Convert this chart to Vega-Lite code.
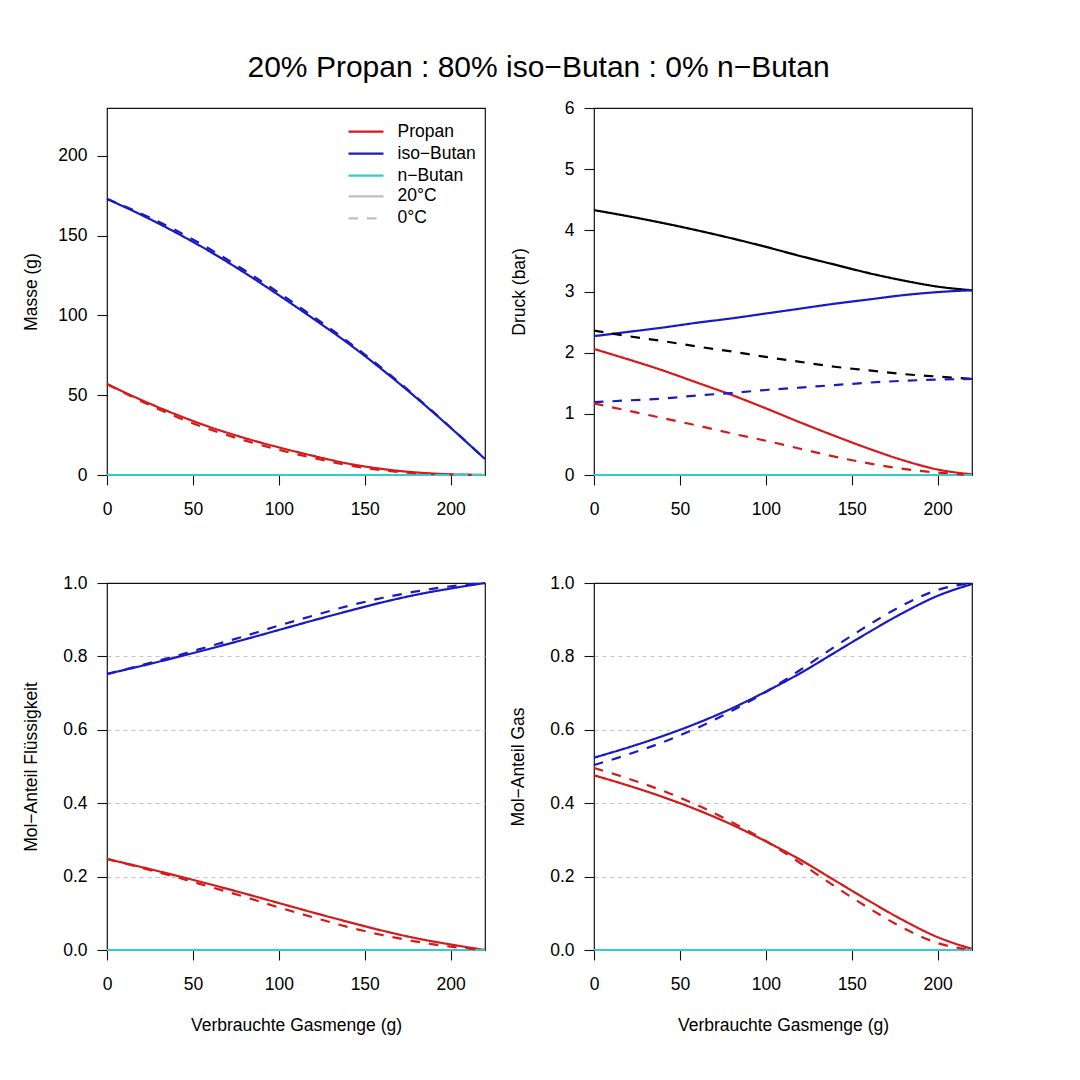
{
  "$schema": "https://vega.github.io/schema/vega-lite/v6.json",
  "title": {"text": "20% Propan : 80% iso−Butan : 0% n−Butan", "fontSize": 30, "fontWeight": "normal", "font": "Liberation Sans", "color": "black", "anchor": "middle", "offset": 15, "dx": 39},
  "padding": {"left": 22, "top": 53, "right": 10, "bottom": 10},
  "columns": 2,
  "spacing": {"row": 108, "column": 109},
  "bounds": "flush",
  "datasets": {
    "masse": [
      {"x": 0, "comp": "Propan", "temp": "20°C", "v": 57},
      {"x": 20, "comp": "Propan", "temp": "20°C", "v": 47},
      {"x": 40, "comp": "Propan", "temp": "20°C", "v": 38},
      {"x": 60, "comp": "Propan", "temp": "20°C", "v": 30},
      {"x": 80, "comp": "Propan", "temp": "20°C", "v": 23.2},
      {"x": 100, "comp": "Propan", "temp": "20°C", "v": 17.3},
      {"x": 120, "comp": "Propan", "temp": "20°C", "v": 12},
      {"x": 140, "comp": "Propan", "temp": "20°C", "v": 7.2},
      {"x": 160, "comp": "Propan", "temp": "20°C", "v": 3.8},
      {"x": 180, "comp": "Propan", "temp": "20°C", "v": 1.6},
      {"x": 200, "comp": "Propan", "temp": "20°C", "v": 0.4},
      {"x": 220, "comp": "Propan", "temp": "20°C", "v": 0},
      {"x": 0, "comp": "iso−Butan", "temp": "20°C", "v": 173},
      {"x": 20, "comp": "iso−Butan", "temp": "20°C", "v": 163},
      {"x": 40, "comp": "iso−Butan", "temp": "20°C", "v": 152},
      {"x": 60, "comp": "iso−Butan", "temp": "20°C", "v": 140},
      {"x": 80, "comp": "iso−Butan", "temp": "20°C", "v": 126.8},
      {"x": 100, "comp": "iso−Butan", "temp": "20°C", "v": 112.7},
      {"x": 120, "comp": "iso−Butan", "temp": "20°C", "v": 98},
      {"x": 140, "comp": "iso−Butan", "temp": "20°C", "v": 82.8},
      {"x": 160, "comp": "iso−Butan", "temp": "20°C", "v": 66.2},
      {"x": 180, "comp": "iso−Butan", "temp": "20°C", "v": 48.4},
      {"x": 200, "comp": "iso−Butan", "temp": "20°C", "v": 29.6},
      {"x": 220, "comp": "iso−Butan", "temp": "20°C", "v": 10},
      {"x": 0, "comp": "n−Butan", "temp": "20°C", "v": 0},
      {"x": 220, "comp": "n−Butan", "temp": "20°C", "v": 0},
      {"x": 0, "comp": "Propan", "temp": "0°C", "v": 57},
      {"x": 20, "comp": "Propan", "temp": "0°C", "v": 46.2},
      {"x": 40, "comp": "Propan", "temp": "0°C", "v": 36.6},
      {"x": 60, "comp": "Propan", "temp": "0°C", "v": 28.5},
      {"x": 80, "comp": "Propan", "temp": "0°C", "v": 21.7},
      {"x": 100, "comp": "Propan", "temp": "0°C", "v": 15.8},
      {"x": 120, "comp": "Propan", "temp": "0°C", "v": 10.7},
      {"x": 140, "comp": "Propan", "temp": "0°C", "v": 6.2},
      {"x": 160, "comp": "Propan", "temp": "0°C", "v": 3},
      {"x": 180, "comp": "Propan", "temp": "0°C", "v": 1.1},
      {"x": 200, "comp": "Propan", "temp": "0°C", "v": 0.2},
      {"x": 220, "comp": "Propan", "temp": "0°C", "v": 0},
      {"x": 0, "comp": "iso−Butan", "temp": "0°C", "v": 173},
      {"x": 20, "comp": "iso−Butan", "temp": "0°C", "v": 163.8},
      {"x": 40, "comp": "iso−Butan", "temp": "0°C", "v": 153.4},
      {"x": 60, "comp": "iso−Butan", "temp": "0°C", "v": 141.5},
      {"x": 80, "comp": "iso−Butan", "temp": "0°C", "v": 128.3},
      {"x": 100, "comp": "iso−Butan", "temp": "0°C", "v": 114.2},
      {"x": 120, "comp": "iso−Butan", "temp": "0°C", "v": 99.3},
      {"x": 140, "comp": "iso−Butan", "temp": "0°C", "v": 83.8},
      {"x": 160, "comp": "iso−Butan", "temp": "0°C", "v": 67},
      {"x": 180, "comp": "iso−Butan", "temp": "0°C", "v": 48.9},
      {"x": 200, "comp": "iso−Butan", "temp": "0°C", "v": 29.8},
      {"x": 220, "comp": "iso−Butan", "temp": "0°C", "v": 10},
      {"x": 0, "comp": "n−Butan", "temp": "0°C", "v": 0},
      {"x": 220, "comp": "n−Butan", "temp": "0°C", "v": 0}
    ],
    "druck": [
      {"x": 0, "comp": "Gesamt", "temp": "20°C", "v": 4.33},
      {"x": 20, "comp": "Gesamt", "temp": "20°C", "v": 4.23},
      {"x": 40, "comp": "Gesamt", "temp": "20°C", "v": 4.12},
      {"x": 60, "comp": "Gesamt", "temp": "20°C", "v": 4.0},
      {"x": 80, "comp": "Gesamt", "temp": "20°C", "v": 3.87},
      {"x": 100, "comp": "Gesamt", "temp": "20°C", "v": 3.73},
      {"x": 120, "comp": "Gesamt", "temp": "20°C", "v": 3.58},
      {"x": 140, "comp": "Gesamt", "temp": "20°C", "v": 3.44},
      {"x": 160, "comp": "Gesamt", "temp": "20°C", "v": 3.3},
      {"x": 180, "comp": "Gesamt", "temp": "20°C", "v": 3.18},
      {"x": 200, "comp": "Gesamt", "temp": "20°C", "v": 3.08},
      {"x": 220, "comp": "Gesamt", "temp": "20°C", "v": 3.02},
      {"x": 0, "comp": "iso−Butan", "temp": "20°C", "v": 2.27},
      {"x": 20, "comp": "iso−Butan", "temp": "20°C", "v": 2.34},
      {"x": 40, "comp": "iso−Butan", "temp": "20°C", "v": 2.41},
      {"x": 60, "comp": "iso−Butan", "temp": "20°C", "v": 2.49},
      {"x": 80, "comp": "iso−Butan", "temp": "20°C", "v": 2.56},
      {"x": 100, "comp": "iso−Butan", "temp": "20°C", "v": 2.64},
      {"x": 120, "comp": "iso−Butan", "temp": "20°C", "v": 2.72},
      {"x": 140, "comp": "iso−Butan", "temp": "20°C", "v": 2.8},
      {"x": 160, "comp": "iso−Butan", "temp": "20°C", "v": 2.87},
      {"x": 180, "comp": "iso−Butan", "temp": "20°C", "v": 2.94},
      {"x": 200, "comp": "iso−Butan", "temp": "20°C", "v": 2.99},
      {"x": 220, "comp": "iso−Butan", "temp": "20°C", "v": 3.02},
      {"x": 0, "comp": "Propan", "temp": "20°C", "v": 2.06},
      {"x": 20, "comp": "Propan", "temp": "20°C", "v": 1.89},
      {"x": 40, "comp": "Propan", "temp": "20°C", "v": 1.71},
      {"x": 60, "comp": "Propan", "temp": "20°C", "v": 1.51},
      {"x": 80, "comp": "Propan", "temp": "20°C", "v": 1.31},
      {"x": 100, "comp": "Propan", "temp": "20°C", "v": 1.09},
      {"x": 120, "comp": "Propan", "temp": "20°C", "v": 0.86},
      {"x": 140, "comp": "Propan", "temp": "20°C", "v": 0.64},
      {"x": 160, "comp": "Propan", "temp": "20°C", "v": 0.43},
      {"x": 180, "comp": "Propan", "temp": "20°C", "v": 0.24},
      {"x": 200, "comp": "Propan", "temp": "20°C", "v": 0.09},
      {"x": 220, "comp": "Propan", "temp": "20°C", "v": 0.01},
      {"x": 0, "comp": "n−Butan", "temp": "20°C", "v": 0},
      {"x": 220, "comp": "n−Butan", "temp": "20°C", "v": 0},
      {"x": 0, "comp": "Gesamt", "temp": "0°C", "v": 2.36},
      {"x": 20, "comp": "Gesamt", "temp": "0°C", "v": 2.27},
      {"x": 40, "comp": "Gesamt", "temp": "0°C", "v": 2.19},
      {"x": 60, "comp": "Gesamt", "temp": "0°C", "v": 2.1},
      {"x": 80, "comp": "Gesamt", "temp": "0°C", "v": 2.02},
      {"x": 100, "comp": "Gesamt", "temp": "0°C", "v": 1.93},
      {"x": 120, "comp": "Gesamt", "temp": "0°C", "v": 1.85},
      {"x": 140, "comp": "Gesamt", "temp": "0°C", "v": 1.77},
      {"x": 160, "comp": "Gesamt", "temp": "0°C", "v": 1.71},
      {"x": 180, "comp": "Gesamt", "temp": "0°C", "v": 1.65},
      {"x": 200, "comp": "Gesamt", "temp": "0°C", "v": 1.61},
      {"x": 220, "comp": "Gesamt", "temp": "0°C", "v": 1.57},
      {"x": 0, "comp": "iso−Butan", "temp": "0°C", "v": 1.19},
      {"x": 20, "comp": "iso−Butan", "temp": "0°C", "v": 1.22},
      {"x": 40, "comp": "iso−Butan", "temp": "0°C", "v": 1.25},
      {"x": 60, "comp": "iso−Butan", "temp": "0°C", "v": 1.3},
      {"x": 80, "comp": "iso−Butan", "temp": "0°C", "v": 1.34},
      {"x": 100, "comp": "iso−Butan", "temp": "0°C", "v": 1.39},
      {"x": 120, "comp": "iso−Butan", "temp": "0°C", "v": 1.43},
      {"x": 140, "comp": "iso−Butan", "temp": "0°C", "v": 1.47},
      {"x": 160, "comp": "iso−Butan", "temp": "0°C", "v": 1.51},
      {"x": 180, "comp": "iso−Butan", "temp": "0°C", "v": 1.54},
      {"x": 200, "comp": "iso−Butan", "temp": "0°C", "v": 1.56},
      {"x": 220, "comp": "iso−Butan", "temp": "0°C", "v": 1.57},
      {"x": 0, "comp": "Propan", "temp": "0°C", "v": 1.17},
      {"x": 20, "comp": "Propan", "temp": "0°C", "v": 1.05},
      {"x": 40, "comp": "Propan", "temp": "0°C", "v": 0.93},
      {"x": 60, "comp": "Propan", "temp": "0°C", "v": 0.81},
      {"x": 80, "comp": "Propan", "temp": "0°C", "v": 0.68},
      {"x": 100, "comp": "Propan", "temp": "0°C", "v": 0.56},
      {"x": 120, "comp": "Propan", "temp": "0°C", "v": 0.43},
      {"x": 140, "comp": "Propan", "temp": "0°C", "v": 0.3},
      {"x": 160, "comp": "Propan", "temp": "0°C", "v": 0.19},
      {"x": 180, "comp": "Propan", "temp": "0°C", "v": 0.1},
      {"x": 200, "comp": "Propan", "temp": "0°C", "v": 0.04},
      {"x": 220, "comp": "Propan", "temp": "0°C", "v": 0},
      {"x": 0, "comp": "n−Butan", "temp": "0°C", "v": 0},
      {"x": 220, "comp": "n−Butan", "temp": "0°C", "v": 0}
    ],
    "fluessig": [
      {"x": 0, "comp": "Propan", "temp": "20°C", "v": 0.248},
      {"x": 20, "comp": "Propan", "temp": "20°C", "v": 0.226},
      {"x": 40, "comp": "Propan", "temp": "20°C", "v": 0.203},
      {"x": 60, "comp": "Propan", "temp": "20°C", "v": 0.179},
      {"x": 80, "comp": "Propan", "temp": "20°C", "v": 0.154},
      {"x": 100, "comp": "Propan", "temp": "20°C", "v": 0.128},
      {"x": 120, "comp": "Propan", "temp": "20°C", "v": 0.102},
      {"x": 140, "comp": "Propan", "temp": "20°C", "v": 0.077},
      {"x": 160, "comp": "Propan", "temp": "20°C", "v": 0.053},
      {"x": 180, "comp": "Propan", "temp": "20°C", "v": 0.032},
      {"x": 200, "comp": "Propan", "temp": "20°C", "v": 0.015},
      {"x": 220, "comp": "Propan", "temp": "20°C", "v": 0},
      {"x": 0, "comp": "iso−Butan", "temp": "20°C", "v": 0.752},
      {"x": 20, "comp": "iso−Butan", "temp": "20°C", "v": 0.774},
      {"x": 40, "comp": "iso−Butan", "temp": "20°C", "v": 0.797},
      {"x": 60, "comp": "iso−Butan", "temp": "20°C", "v": 0.821},
      {"x": 80, "comp": "iso−Butan", "temp": "20°C", "v": 0.846},
      {"x": 100, "comp": "iso−Butan", "temp": "20°C", "v": 0.872},
      {"x": 120, "comp": "iso−Butan", "temp": "20°C", "v": 0.898},
      {"x": 140, "comp": "iso−Butan", "temp": "20°C", "v": 0.923},
      {"x": 160, "comp": "iso−Butan", "temp": "20°C", "v": 0.947},
      {"x": 180, "comp": "iso−Butan", "temp": "20°C", "v": 0.968},
      {"x": 200, "comp": "iso−Butan", "temp": "20°C", "v": 0.985},
      {"x": 220, "comp": "iso−Butan", "temp": "20°C", "v": 1},
      {"x": 0, "comp": "n−Butan", "temp": "20°C", "v": 0},
      {"x": 220, "comp": "n−Butan", "temp": "20°C", "v": 0},
      {"x": 0, "comp": "Propan", "temp": "0°C", "v": 0.248},
      {"x": 20, "comp": "Propan", "temp": "0°C", "v": 0.224},
      {"x": 40, "comp": "Propan", "temp": "0°C", "v": 0.199},
      {"x": 60, "comp": "Propan", "temp": "0°C", "v": 0.172},
      {"x": 80, "comp": "Propan", "temp": "0°C", "v": 0.145},
      {"x": 100, "comp": "Propan", "temp": "0°C", "v": 0.116},
      {"x": 120, "comp": "Propan", "temp": "0°C", "v": 0.089},
      {"x": 140, "comp": "Propan", "temp": "0°C", "v": 0.063},
      {"x": 160, "comp": "Propan", "temp": "0°C", "v": 0.041},
      {"x": 180, "comp": "Propan", "temp": "0°C", "v": 0.023},
      {"x": 200, "comp": "Propan", "temp": "0°C", "v": 0.009},
      {"x": 220, "comp": "Propan", "temp": "0°C", "v": 0},
      {"x": 0, "comp": "iso−Butan", "temp": "0°C", "v": 0.752},
      {"x": 20, "comp": "iso−Butan", "temp": "0°C", "v": 0.776},
      {"x": 40, "comp": "iso−Butan", "temp": "0°C", "v": 0.801},
      {"x": 60, "comp": "iso−Butan", "temp": "0°C", "v": 0.828},
      {"x": 80, "comp": "iso−Butan", "temp": "0°C", "v": 0.855},
      {"x": 100, "comp": "iso−Butan", "temp": "0°C", "v": 0.884},
      {"x": 120, "comp": "iso−Butan", "temp": "0°C", "v": 0.911},
      {"x": 140, "comp": "iso−Butan", "temp": "0°C", "v": 0.937},
      {"x": 160, "comp": "iso−Butan", "temp": "0°C", "v": 0.959},
      {"x": 180, "comp": "iso−Butan", "temp": "0°C", "v": 0.977},
      {"x": 200, "comp": "iso−Butan", "temp": "0°C", "v": 0.991},
      {"x": 220, "comp": "iso−Butan", "temp": "0°C", "v": 1},
      {"x": 0, "comp": "n−Butan", "temp": "0°C", "v": 0},
      {"x": 220, "comp": "n−Butan", "temp": "0°C", "v": 0}
    ],
    "gas": [
      {"x": 0, "comp": "Propan", "temp": "20°C", "v": 0.476},
      {"x": 20, "comp": "Propan", "temp": "20°C", "v": 0.448},
      {"x": 40, "comp": "Propan", "temp": "20°C", "v": 0.417},
      {"x": 60, "comp": "Propan", "temp": "20°C", "v": 0.382},
      {"x": 80, "comp": "Propan", "temp": "20°C", "v": 0.342},
      {"x": 100, "comp": "Propan", "temp": "20°C", "v": 0.296},
      {"x": 120, "comp": "Propan", "temp": "20°C", "v": 0.246},
      {"x": 140, "comp": "Propan", "temp": "20°C", "v": 0.19},
      {"x": 160, "comp": "Propan", "temp": "20°C", "v": 0.134},
      {"x": 180, "comp": "Propan", "temp": "20°C", "v": 0.081},
      {"x": 200, "comp": "Propan", "temp": "20°C", "v": 0.035},
      {"x": 220, "comp": "Propan", "temp": "20°C", "v": 0.003},
      {"x": 0, "comp": "iso−Butan", "temp": "20°C", "v": 0.524},
      {"x": 20, "comp": "iso−Butan", "temp": "20°C", "v": 0.552},
      {"x": 40, "comp": "iso−Butan", "temp": "20°C", "v": 0.583},
      {"x": 60, "comp": "iso−Butan", "temp": "20°C", "v": 0.618},
      {"x": 80, "comp": "iso−Butan", "temp": "20°C", "v": 0.658},
      {"x": 100, "comp": "iso−Butan", "temp": "20°C", "v": 0.704},
      {"x": 120, "comp": "iso−Butan", "temp": "20°C", "v": 0.754},
      {"x": 140, "comp": "iso−Butan", "temp": "20°C", "v": 0.81},
      {"x": 160, "comp": "iso−Butan", "temp": "20°C", "v": 0.866},
      {"x": 180, "comp": "iso−Butan", "temp": "20°C", "v": 0.919},
      {"x": 200, "comp": "iso−Butan", "temp": "20°C", "v": 0.965},
      {"x": 220, "comp": "iso−Butan", "temp": "20°C", "v": 0.997},
      {"x": 0, "comp": "n−Butan", "temp": "20°C", "v": 0},
      {"x": 220, "comp": "n−Butan", "temp": "20°C", "v": 0},
      {"x": 0, "comp": "Propan", "temp": "0°C", "v": 0.496},
      {"x": 20, "comp": "Propan", "temp": "0°C", "v": 0.467},
      {"x": 40, "comp": "Propan", "temp": "0°C", "v": 0.434},
      {"x": 60, "comp": "Propan", "temp": "0°C", "v": 0.395},
      {"x": 80, "comp": "Propan", "temp": "0°C", "v": 0.349},
      {"x": 100, "comp": "Propan", "temp": "0°C", "v": 0.297},
      {"x": 120, "comp": "Propan", "temp": "0°C", "v": 0.237},
      {"x": 140, "comp": "Propan", "temp": "0°C", "v": 0.174},
      {"x": 160, "comp": "Propan", "temp": "0°C", "v": 0.114},
      {"x": 180, "comp": "Propan", "temp": "0°C", "v": 0.06},
      {"x": 200, "comp": "Propan", "temp": "0°C", "v": 0.019},
      {"x": 220, "comp": "Propan", "temp": "0°C", "v": 0},
      {"x": 0, "comp": "iso−Butan", "temp": "0°C", "v": 0.504},
      {"x": 20, "comp": "iso−Butan", "temp": "0°C", "v": 0.533},
      {"x": 40, "comp": "iso−Butan", "temp": "0°C", "v": 0.566},
      {"x": 60, "comp": "iso−Butan", "temp": "0°C", "v": 0.605},
      {"x": 80, "comp": "iso−Butan", "temp": "0°C", "v": 0.651},
      {"x": 100, "comp": "iso−Butan", "temp": "0°C", "v": 0.703},
      {"x": 120, "comp": "iso−Butan", "temp": "0°C", "v": 0.763},
      {"x": 140, "comp": "iso−Butan", "temp": "0°C", "v": 0.826},
      {"x": 160, "comp": "iso−Butan", "temp": "0°C", "v": 0.886},
      {"x": 180, "comp": "iso−Butan", "temp": "0°C", "v": 0.94},
      {"x": 200, "comp": "iso−Butan", "temp": "0°C", "v": 0.981},
      {"x": 220, "comp": "iso−Butan", "temp": "0°C", "v": 1},
      {"x": 0, "comp": "n−Butan", "temp": "0°C", "v": 0},
      {"x": 220, "comp": "n−Butan", "temp": "0°C", "v": 0}
    ]
  },
  "concat": [
    {
      "width": 378,
      "height": 367,
      "data": {"name": "masse"},
      "mark": {"type": "line", "interpolate": "monotone", "strokeWidth": 2.2},
      "encoding": {
        "x": {"field": "x", "type": "quantitative", "scale": {"domain": [0, 220], "nice": false, "zero": false}, "axis": {"values": [0, 50, 100, 150, 200], "title": null}},
        "y": {"field": "v", "type": "quantitative", "scale": {"domain": [0, 230], "nice": false}, "axis": {"values": [0, 50, 100, 150, 200], "title": "Masse (g)", "titlePadding": 17}},
        "color": {
          "field": "comp", "type": "nominal",
          "scale": {"domain": ["Propan", "iso−Butan", "n−Butan"], "range": ["#D41A1A", "#1A1AC4", "#33CCCC"]},
          "legend": {"title": null, "orient": "none", "legendX": 240, "legendY": 13.8, "symbolType": "stroke", "symbolSize": 1225, "symbolStrokeWidth": 2.2, "clipHeight": 19.6, "rowPadding": 2, "labelOffset": 12.5, "padding": 0}
        },
        "strokeDash": {
          "field": "temp", "type": "nominal",
          "scale": {"domain": ["20°C", "0°C"], "range": [[1, 0], [9.5, 9]]},
          "legend": {"title": null, "orient": "none", "legendX": 240, "legendY": 78.6, "symbolType": "stroke", "symbolSize": 1225, "symbolStrokeWidth": 2.2, "symbolStrokeColor": "#BEBEBE", "clipHeight": 19.6, "rowPadding": 2, "labelOffset": 12.5, "padding": 0}
        }
      }
    },
    {
      "width": 378,
      "height": 367,
      "data": {"name": "druck"},
      "mark": {"type": "line", "interpolate": "monotone", "strokeWidth": 2.2},
      "encoding": {
        "x": {"field": "x", "type": "quantitative", "scale": {"domain": [0, 220], "nice": false, "zero": false}, "axis": {"values": [0, 50, 100, 150, 200], "title": null}},
        "y": {"field": "v", "type": "quantitative", "scale": {"domain": [0, 6], "nice": false}, "axis": {"values": [0, 1, 2, 3, 4, 5, 6], "title": "Druck (bar)", "titlePadding": 36}},
        "color": {
          "field": "comp", "type": "nominal",
          "scale": {"domain": ["Propan", "iso−Butan", "n−Butan", "Gesamt"], "range": ["#D41A1A", "#1A1AC4", "#33CCCC", "#000000"]},
          "legend": null
        },
        "strokeDash": {
          "field": "temp", "type": "nominal",
          "scale": {"domain": ["20°C", "0°C"], "range": [[1, 0], [9.5, 9]]},
          "legend": null
        }
      }
    },
    {
      "width": 378,
      "height": 367,
      "data": {"name": "fluessig"},
      "mark": {"type": "line", "interpolate": "monotone", "strokeWidth": 2.2},
      "encoding": {
        "x": {"field": "x", "type": "quantitative", "scale": {"domain": [0, 220], "nice": false, "zero": false}, "axis": {"values": [0, 50, 100, 150, 200], "title": "Verbrauchte Gasmenge (g)"}},
        "y": {"field": "v", "type": "quantitative", "scale": {"domain": [0, 1], "nice": false}, "axis": {"values": [0, 0.2, 0.4, 0.6, 0.8, 1], "format": ".1f", "title": "Mol−Anteil Flüssigkeit", "titlePadding": 22, "grid": true, "gridDash": [4, 4], "gridColor": {"condition": {"test": "datum.value > 0.05 && datum.value < 0.95", "value": "#C4C4C4"}, "value": "transparent"}}},
        "color": {
          "field": "comp", "type": "nominal",
          "scale": {"domain": ["Propan", "iso−Butan", "n−Butan"], "range": ["#D41A1A", "#1A1AC4", "#33CCCC"]},
          "legend": null
        },
        "strokeDash": {
          "field": "temp", "type": "nominal",
          "scale": {"domain": ["20°C", "0°C"], "range": [[1, 0], [9.5, 9]]},
          "legend": null
        }
      }
    },
    {
      "width": 378,
      "height": 367,
      "data": {"name": "gas"},
      "mark": {"type": "line", "interpolate": "monotone", "strokeWidth": 2.2},
      "encoding": {
        "x": {"field": "x", "type": "quantitative", "scale": {"domain": [0, 220], "nice": false, "zero": false}, "axis": {"values": [0, 50, 100, 150, 200], "title": "Verbrauchte Gasmenge (g)"}},
        "y": {"field": "v", "type": "quantitative", "scale": {"domain": [0, 1], "nice": false}, "axis": {"values": [0, 0.2, 0.4, 0.6, 0.8, 1], "format": ".1f", "title": "Mol−Anteil Gas", "titlePadding": 22, "grid": true, "gridDash": [4, 4], "gridColor": {"condition": {"test": "datum.value > 0.05 && datum.value < 0.95", "value": "#C4C4C4"}, "value": "transparent"}}},
        "color": {
          "field": "comp", "type": "nominal",
          "scale": {"domain": ["Propan", "iso−Butan", "n−Butan"], "range": ["#D41A1A", "#1A1AC4", "#33CCCC"]},
          "legend": null
        },
        "strokeDash": {
          "field": "temp", "type": "nominal",
          "scale": {"domain": ["20°C", "0°C"], "range": [[1, 0], [9.5, 9]]},
          "legend": null
        }
      }
    }
  ],
  "resolve": {
    "scale": {"color": "independent", "strokeDash": "independent"},
    "legend": {"color": "independent", "strokeDash": "independent"}
  },
  "config": {
    "font": "Liberation Sans",
    "background": "white",
    "view": {"stroke": "#111111", "strokeWidth": 1.2},
    "axis": {
      "domain": false,
      "grid": false,
      "ticks": true,
      "tickColor": "#111111",
      "tickSize": 10,
      "tickWidth": 1.1,
      "labelFont": "Liberation Sans",
      "labelFontSize": 17.5,
      "labelColor": "black",
      "labelFlush": false,
      "labelOverlap": false,
      "titleFont": "Liberation Sans",
      "titleFontSize": 17.5,
      "titleFontWeight": "normal",
      "titleColor": "black"
    },
    "axisX": {"labelPadding": 15, "titlePadding": 24},
    "axisY": {"labelPadding": 10, "labelAngle": 0},
    "legend": {"labelFont": "Liberation Sans", "labelFontSize": 17.5, "labelColor": "black"}
  }
}
